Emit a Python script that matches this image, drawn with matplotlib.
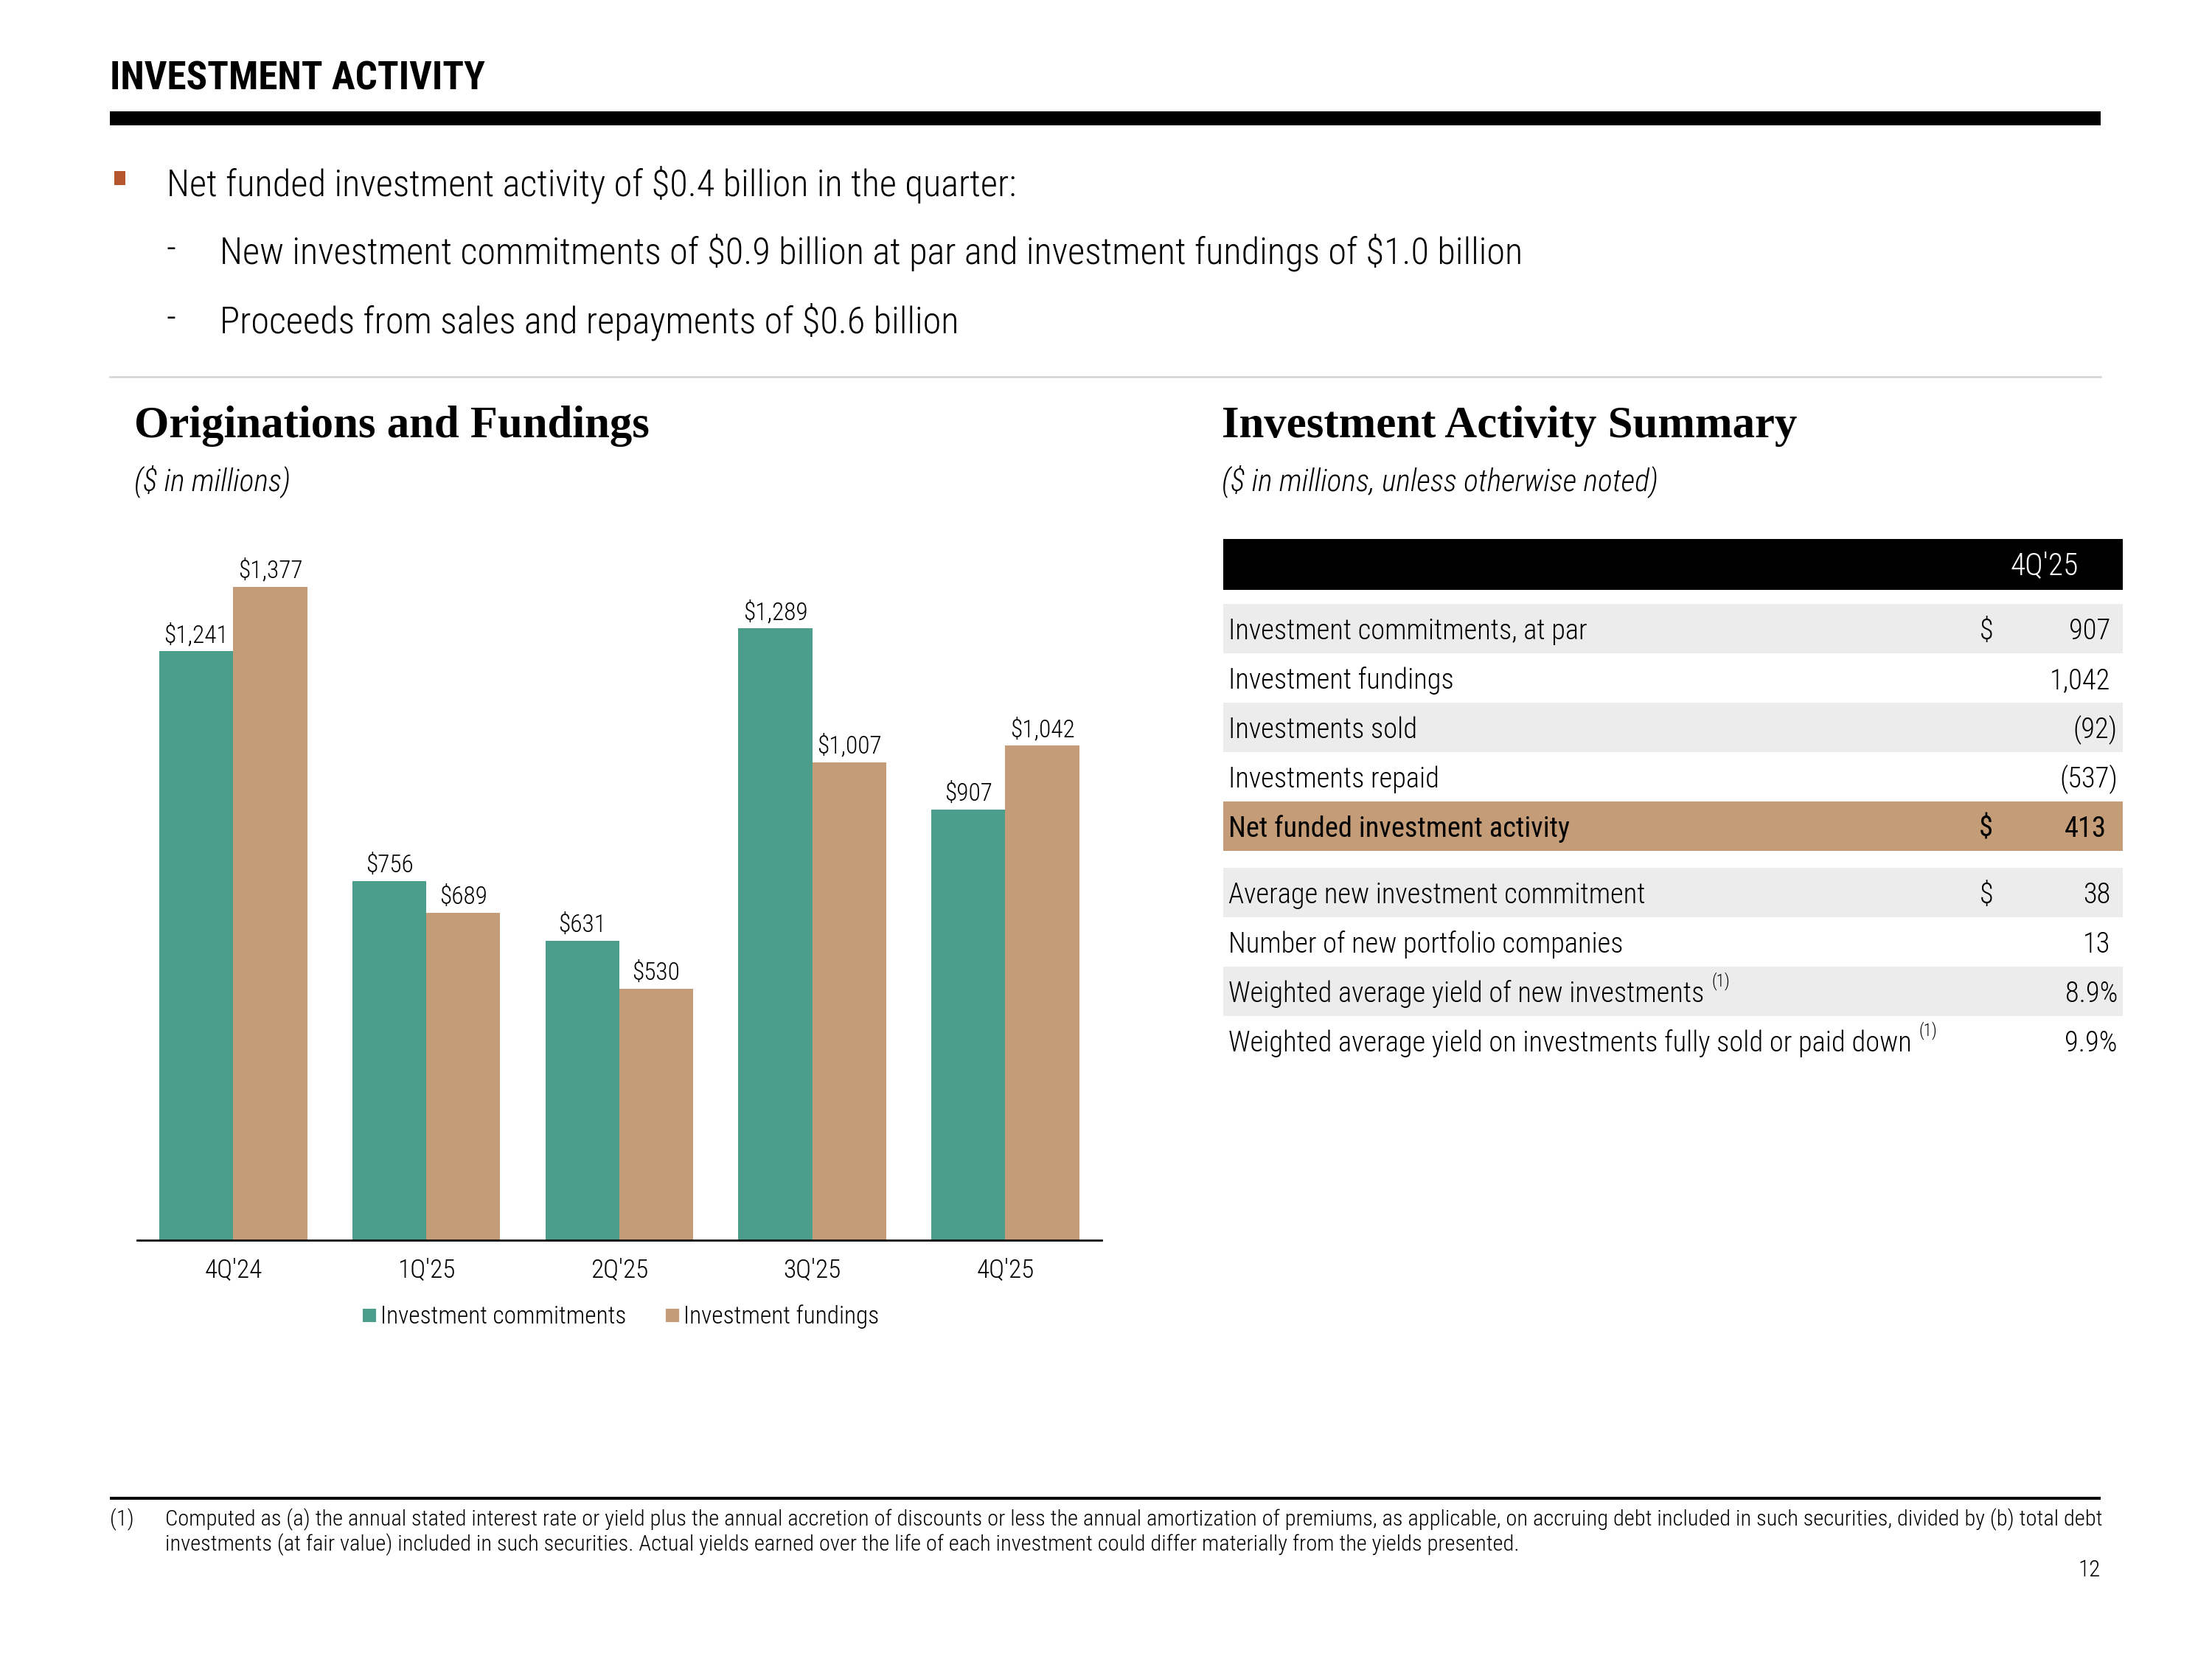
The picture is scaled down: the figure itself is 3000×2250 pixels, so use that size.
"""
plot.py - Investment activity slide: originations/fundings bars plus summary table.
"""

import matplotlib
matplotlib.use("Agg")
import matplotlib.pyplot as plt
from matplotlib import font_manager
from matplotlib.lines import Line2D
from matplotlib.patches import Rectangle

# --- Data ---
quarters = ["4Q'24", "1Q'25", "2Q'25", "3Q'25", "4Q'25"]
commitments = [1241, 756, 631, 1289, 907]
fundings = [1377, 689, 530, 1007, 1042]

series_names = ["Investment commitments", "Investment fundings"]

bullet_main = "Net funded investment activity of $0.4 billion in the quarter:"
bullet_subs = [
    "New investment commitments of $0.9 billion at par and investment fundings of $1.0 billion",
    "Proceeds from sales and repayments of $0.6 billion",
]

table_period = "4Q'25"
table_labels = [
    "Investment commitments, at par",
    "Investment fundings",
    "Investments sold",
    "Investments repaid",
    "Net funded investment activity",
    "Average new investment commitment",
    "Number of new portfolio companies",
    "Weighted average yield of new investments",
    "Weighted average yield on investments fully sold or paid down",
]
table_currency = ["$", "", "", "", "$", "$", "", "", ""]
table_values = ["907", "1,042", "(92)", "(537)", "413", "38", "13", "8.9%", "9.9%"]
table_notes = ["", "", "", "", "", "", "", "(1)", "(1)"]

footnote = [
    "Computed as (a) the annual stated interest rate or yield plus the annual accretion of discounts or less the "
    "annual amortization of premiums, as applicable, on accruing debt included in such securities, divided by (b) total debt",
    "investments (at fair value) included in such securities. Actual yields earned over the life of each investment "
    "could differ materially from the yields presented.",
]

# --- Style ---
GREEN = "#4A9E8B"
TAN = "#C49C78"
BULLET = "#B5562E"
ROW_GREY = "#ECECEC"
LIGHT = "light"

available = {f.name for f in font_manager.fontManager.ttflist}


def pick(*names):
    for n in names:
        if n in available:
            return n
    return "DejaVu Sans"


SANS = pick("Liberation Sans Narrow", "Roboto Condensed", "Open Sans Condensed", "Roboto", "Open Sans")
SERIF = pick("Liberation Serif", "DejaVu Serif")
plt.rcParams["font.family"] = [SANS, "DejaVu Sans"]

W, H = 1568, 1176          # layout grid (reference pixel units)
fig = plt.figure(figsize=(20, 15), dpi=150)
page = fig.add_axes([0, 0, 1, 1])
page.set_xlim(0, W)
page.set_ylim(H, 0)
page.axis("off")

renderer = fig.canvas.get_renderer()
PX = 3000 / W


def T(x, y, s, **kw):
    kw.setdefault("parse_math", False)
    kw.setdefault("va", "center")
    kw.setdefault("fontweight", LIGHT)
    return page.text(x, y, s, **kw)


def fit(txt, target):
    """Rescale a text so its rendered width matches target (layout units)."""
    w = txt.get_window_extent(renderer=renderer).width
    txt.set_fontsize(txt.get_fontsize() * target * PX / w)
    return txt.get_fontsize()


def right_edge(txt):
    bb = txt.get_window_extent(renderer=renderer)
    return page.transData.inverted().transform((bb.x1, bb.y0))[0]


# --- Header ---
title = T(78, 56, "INVESTMENT ACTIVITY", fontsize=22, fontweight="bold")
fit(title, 266)
page.add_patch(Rectangle((78, 79), 1411, 10, color="black", lw=0))

page.add_patch(Rectangle((81, 121), 8, 10, color=BULLET, lw=0))
sub0 = T(156, 179, bullet_subs[0], fontsize=20)
fs_bullet = fit(sub0, 923)
T(118, 131, bullet_main, fontsize=fs_bullet)
T(156, 228, bullet_subs[1], fontsize=fs_bullet)
for y in (179, 228):
    T(118, y - 2, "-", fontsize=fs_bullet)

page.plot([78, 1489], [267, 267], color="#D3D3D3", lw=1.2)

# --- Section headings ---
h1 = T(95, 302, "Originations and Fundings", family=SERIF, fontweight="bold", fontsize=28)
fs_head = fit(h1, 366)
T(866, 302, "Investment Activity Summary", family=SERIF, fontweight="bold", fontsize=fs_head)
s1 = T(866, 341, "($ in millions, unless otherwise noted)", fontsize=18, style="italic")
fs_sub = fit(s1, 309)
T(95, 341, "($ in millions)", fontsize=fs_sub, style="italic")

# --- Bar chart ---
ax = fig.add_axes([97 / W, 1 - 879 / H, (781 - 97) / W, 504.4 / H])
x = list(range(len(quarters)))
bw = 0.383
b1 = ax.bar([i - bw / 2 for i in x], commitments, width=bw, color=GREEN, lw=0)
b2 = ax.bar([i + bw / 2 for i in x], fundings, width=bw, color=TAN, lw=0)
for bars, vals in ((b1, commitments), (b2, fundings)):
    for rect, v in zip(bars, vals):
        ax.annotate(f"${v:,}", (rect.get_x() + rect.get_width() / 2, v),
                    xytext=(0, 2.5), textcoords="offset points", parse_math=False,
                    ha="center", va="bottom", fontsize=16, fontweight=LIGHT)
ax.set_xlim(-0.5, 4.5)
ax.set_ylim(0, 1500)
ax.set_xticks(x)
ax.set_xticklabels(quarters, fontsize=17, fontweight=LIGHT)
ax.set_yticks([])
ax.tick_params(axis="x", length=0, pad=12)
for s in ("top", "right", "left"):
    ax.spines[s].set_visible(False)
ax.spines["bottom"].set_linewidth(1.3)
ax.patch.set_alpha(0)

handles = [Line2D([], [], marker="s", ls="", markersize=8, color=c) for c in (GREEN, TAN)]
ax.legend(handles, series_names, loc="center", bbox_to_anchor=(0.5, -0.108), ncol=2,
          frameon=False, prop={"size": 16, "weight": LIGHT},
          handletextpad=0.05, columnspacing=1.5, handlelength=0.8)

# --- Summary table ---
page.add_patch(Rectangle((867, 382), 638, 36, color="black", lw=0))
T(1449, 401, table_period, color="white", fontsize=20, ha="center")

row_tops = [428, 463, 498, 533, 568, 615, 650, 685, 720]
row_fill = [ROW_GREY, "white", ROW_GREY, "white", TAN, ROW_GREY, "white", ROW_GREY, "white"]
fs_table = None
for i, (lab, cur, val, note) in enumerate(zip(table_labels, table_currency, table_values, table_notes)):
    top = row_tops[i]
    yc = top + 19.5
    if row_fill[i] != "white":
        page.add_patch(Rectangle((867, top), 638, 35, color=row_fill[i], lw=0))
    wt = "normal" if lab.startswith("Net funded") else LIGHT
    t = T(871, yc, lab, fontsize=fs_table or 16, fontweight=wt)
    if fs_table is None:
        fs_table = fit(t, 255)
    if note:
        T(right_edge(t) + 5, yc - 9, note, fontsize=fs_table * 0.6)
    if cur:
        T(1408, yc, cur, fontsize=fs_table, fontweight=wt, ha="center")
    xr = 1501 if val[-1] in ")%" else (1493 if wt == "normal" else 1496)
    T(xr, yc, val, fontsize=fs_table, fontweight=wt, ha="right")

# --- Footnote ---
page.add_patch(Rectangle((78, 1061), 1411, 2.2, color="black", lw=0))
f1 = T(117, 1077, footnote[0], fontsize=10)
fs_foot = fit(f1, 1372)
T(117, 1095, footnote[1], fontsize=fs_foot)
T(78, 1077, "(1)", fontsize=fs_foot)
T(1489, 1113, "12", fontsize=15, ha="right")

fig.savefig("out.png", dpi=150)
